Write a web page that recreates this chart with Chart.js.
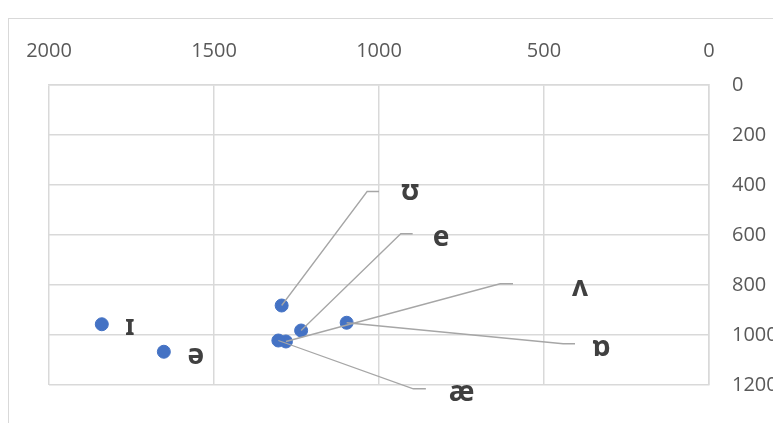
<!DOCTYPE html>
<html>
<head>
<meta charset="utf-8">
<script src="https://cdn.jsdelivr.net/npm/chart.js@4.4.1/dist/chart.umd.min.js"></script>
<style>
  html, body { margin: 0; padding: 0; background: #fff; overflow: hidden; }
  #frame { position: absolute; left: 8px; top: 18px; width: 900px; height: 600px; border: 1px solid #d9d9d9; }
  #wrap { position: absolute; left: 0; top: 0; width: 800px; height: 440px; }
</style>
</head>
<body>
<div id="frame"></div>
<div id="wrap"><canvas id="chart"></canvas></div>
<script>
// vowel formant plot (x = F2, y = F1, both reversed)
var vowels = ['ɪ', 'ə', 'ʊ', 'e', 'ʌ', 'ɒ', 'æ'];
var f2 = [1840, 1652, 1295, 1236, 1282, 1098, 1305];
var f1 = [957, 1067, 882, 982, 1026, 951, 1022];

// where the data labels sit (in data units), and their leader lines
var labelX = [1755, 1555, 906, 812, 391, 325, 750];
var labelY = [970, 1086, 430, 614, 814, 1054, 1234];
var leaderBendX = [null, null, 1036, 934, 633, 442, 896];
var leaderEndX = [null, null, 1000, 898, 594, 406, 858];
var leaderY = [null, null, 426, 595, 795, 1035, 1215];

var xTicks = [0, 500, 1000, 1500, 2000];
var yTicks = [0, 200, 400, 600, 800, 1000, 1200];

var points = f2.map(function (x, i) { return { x: x, y: f1[i] }; });

var vowelLabels = {
  id: 'vowelLabels',
  afterDatasetsDraw: function (chart) {
    var ctx = chart.ctx;
    var xs = chart.scales.x, ys = chart.scales.y;
    ctx.save();
    ctx.strokeStyle = '#a6a6a6';
    ctx.lineWidth = 1.3;
    for (var i = 0; i < vowels.length; i++) {
      if (leaderY[i] === null) continue;
      ctx.beginPath();
      ctx.moveTo(xs.getPixelForValue(f2[i]), ys.getPixelForValue(f1[i]));
      ctx.lineTo(xs.getPixelForValue(leaderBendX[i]), ys.getPixelForValue(leaderY[i]));
      ctx.lineTo(xs.getPixelForValue(leaderEndX[i]), ys.getPixelForValue(leaderY[i]));
      ctx.stroke();
    }
    ctx.fillStyle = '#404040';
    ctx.font = 'bold 28px "Noto Sans", "DejaVu Sans", sans-serif';
    ctx.textAlign = 'center';
    ctx.textBaseline = 'middle';
    for (var j = 0; j < vowels.length; j++) {
      ctx.fillText(vowels[j], xs.getPixelForValue(labelX[j]), ys.getPixelForValue(labelY[j]));
    }
    ctx.restore();
  }
};

var tickFont = { family: '"Open Sans", sans-serif', size: 20 };
function plain(v) { return String(v); }

new Chart(document.getElementById('chart'), {
  type: 'scatter',
  data: {
    datasets: [{
      data: points,
      backgroundColor: '#4472c4',
      borderColor: '#4472c4',
      pointRadius: 6.5,
      pointHoverRadius: 6.5
    }]
  },
  options: {
    responsive: true,
    maintainAspectRatio: false,
    animation: false,
    layout: { padding: { left: 49, top: 0, right: 0, bottom: 55 } },
    plugins: { legend: { display: false }, tooltip: { enabled: false } },
    scales: {
      x: {
        type: 'linear',
        position: 'top',
        reverse: true,
        min: 0,
        max: 2000,
        afterBuildTicks: function (s) { s.ticks = xTicks.map(function (v) { return { value: v }; }); },
        afterFit: function (s) { s.height = 85; },
        grid: { color: '#d9d9d9', lineWidth: 1.5, drawTicks: false },
        border: { color: '#d9d9d9', width: 1.5 },
        ticks: { color: '#595959', font: tickFont, padding: 22, maxRotation: 0, callback: plain }
      },
      y: {
        type: 'linear',
        position: 'right',
        reverse: true,
        min: 0,
        max: 1200,
        afterBuildTicks: function (s) { s.ticks = yTicks.map(function (v) { return { value: v }; }); },
        afterFit: function (s) { s.width = 91; },
        grid: { color: '#d9d9d9', lineWidth: 1.5, drawTicks: false },
        border: { color: '#d9d9d9', width: 1.5 },
        ticks: { color: '#595959', font: tickFont, padding: 23, callback: plain }
      }
    }
  },
  plugins: [vowelLabels]
});
</script>
</body>
</html>
